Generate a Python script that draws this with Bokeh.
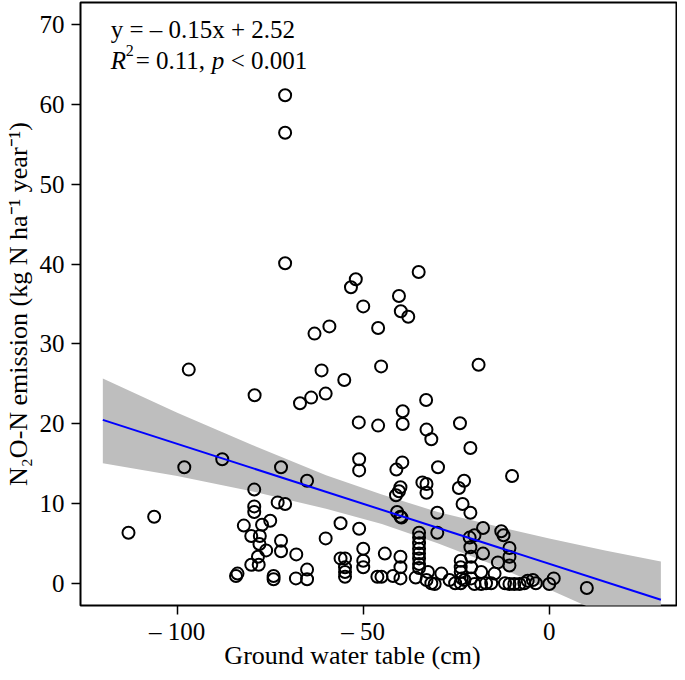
from bokeh.plotting import figure
from bokeh.models import Range1d, FixedTicker, Label
from bokeh.embed import file_html
from bokeh.resources import INLINE

# ---- data ----
water_table = [
    -71.0, -71.0, -71.0, -52.0, -53.3, -50.0, -59.1, -63.1, -46.0, -96.9,
    -61.2, -55.1, -45.2, -79.2, -60.1, -64.0, -67.0, -51.2, -46.0,
    -35.1, -40.4, -39.9, -37.9, -19.0, -33.1, -39.4, -39.4, -33.0, -31.7, -24.0,
    -21.2,
    -87.9, -98.1, -72.1, -65.1, -51.1, -51.1, -79.3, -73.0, -71.0, -79.3, -79.3,
    -106.2, -113.1,
    -75.0, -77.2, -82.1, -80.1, -77.8, -77.9, -76.1, -72.1, -72.1, -78.3, -80.1,
    -78.1, -68.0, -56.1, -60.1, -51.1, -50.0, -50.0, -50.0,
    -84.2, -83.8, -74.1, -74.1, -68.1, -65.1, -65.1, -56.1, -54.9, -54.9, -54.9,
    -54.9, -46.2, -45.1, -44.2,
    -39.5, -41.1, -29.9, -40.0, -40.4, -41.2, -34.1, -33.0, -33.0, -22.9, -24.3,
    -10.0, -23.3, -21.2, -30.1, -40.9, -40.0, -39.7, -30.1,
    -35.0, -35.0, -35.0, -35.0, -35.0, -35.0, -35.0, -35.0,
    -17.8, -20.1, -21.4, -12.9, -12.3, -21.2, -17.8, -10.7, -10.7, -10.7, -13.8,
    -21.0, -21.0, -23.8, -23.8, -23.8,
    -40.0, -40.0, -40.0, -42.0, -35.9, -32.6, -33.0, -31.7, -30.8, -29.0, -26.8,
    -25.3, -23.8, -22.8, -21.0, -20.1, -18.3, -17.0, -15.6, -14.7, -18.3, -11.9,
    -10.7, -9.4, -8.0, -6.7, -4.4, -3.6, 0.0, 1.2, 10.1, -5.8, -23.5,
]
emission = [
    61.1, 56.4, 40.1, 38.1, 37.1, 34.7, 32.2, 31.3, 32.0, 26.8,
    26.7, 25.5, 27.2, 23.6, 23.8, 23.3, 22.6, 20.2, 19.8,
    39.0, 36.0, 34.1, 33.4, 27.4, 23.0, 21.6, 20.0, 19.3, 18.1, 20.1,
    17.0,
    15.6, 14.6, 14.6, 12.9, 15.6, 14.2, 11.8, 10.2, 10.0, 9.7, 9.0,
    8.4, 6.4,
    7.9, 7.4, 7.3, 6.0, 6.0, 5.0, 4.2, 5.4, 4.1, 3.4, 2.4,
    2.4, 3.7, 7.6, 5.7, 6.9, 4.4, 2.9, 2.1,
    1.0, 1.3, 1.0, 0.6, 0.7, 1.8, 0.6, 3.2, 3.2, 2.1, 1.5,
    0.9, 0.9, 0.9, 3.8,
    15.2, 14.3, 14.6, 12.1, 11.6, 11.1, 12.7, 12.5, 11.4, 12.9, 12.0,
    13.5, 10.0, 8.9, 8.9, 9.0, 8.4, 8.3, 6.4,
    6.4, 5.8, 5.1, 4.4, 3.8, 3.2, 2.5, 2.0,
    7.0, 6.1, 5.8, 6.6, 6.1, 4.6, 3.8, 4.5, 3.4, 2.3, 2.7,
    3.4, 2.1, 2.9, 2.1, 1.5,
    3.4, 2.1, 0.7, 1.0, 0.8, 1.5, 0.5, 0.1, 0.0, 1.3, 0.5,
    0.1, 0.1, 0.5, 0.7, 0.0, 0.0, 0.1, 0.1, 1.3, 1.5, 0.1,
    0.0, 0.0, 0.0, 0.1, 0.5, 0.1, 0.0, 0.7, -0.5, 0.4, 0.7,
]

# regression (from the printed equation) and its confidence band
slope = -0.15
intercept = 2.52
fit_x = [-120.0, 30.0]
band_x = [-120, -100, -80, -60, -45, -30, -15, 0, 15, 30]
band_hi = [25.7, 21.4, 17.4, 13.6, 11.2, 9.0, 7.3, 5.7, 4.2, 2.8]
band_lo = [15.1, 13.5, 11.6, 9.4, 7.5, 5.1, 2.4, -0.7, -3.8, -6.9]

x_ticks = [-100, -50, 0]
x_tick_labels = ["\u2013 100", "\u2013 50", "0"]
y_ticks = [0, 10, 20, 30, 40, 50, 60, 70]

eq_text = "y = \u2013 0.15x + 2.52"
x_title = "Ground water table (cm)"
y_title = "N\u2082O-N emission (kg N ha\u207b\u00b9 year\u207b\u00b9)"

FONT = "Liberation Serif"

fit_y = [slope * v + intercept for v in fit_x]

p = figure(width=677, height=672,
           x_range=Range1d(-126.0, 34.2), y_range=Range1d(-2.69, 72.69),
           output_backend="svg", toolbar_location=None,
           min_border_left=78, min_border_right=1,
           min_border_top=2, min_border_bottom=67)

p.background_fill_color = "white"
p.border_fill_color = "white"
p.outline_line_color = "black"
p.outline_line_width = 2
p.xgrid.grid_line_color = None
p.ygrid.grid_line_color = None

p.varea(x=band_x, y1=band_lo, y2=band_hi, fill_color="#BEBEBE", fill_alpha=1.0)
p.scatter(water_table, emission, marker="circle", size=12,
          fill_color=None, line_color="black", line_width=2)
p.line(fit_x, fit_y, line_color="#0000FF", line_width=2)

for ax in (p.xaxis, p.yaxis):
    ax.axis_line_color = None
    ax.major_tick_out = 9
    ax.major_tick_in = 0
    ax.major_tick_line_color = "black"
    ax.major_tick_line_width = 1.5
    ax.minor_tick_line_color = None
    ax.major_label_text_font = FONT
    ax.major_label_text_font_size = "25px"
    ax.major_label_text_color = "black"
    ax.axis_label_text_font = FONT
    ax.axis_label_text_font_size = "26px"
    ax.axis_label_text_font_style = "normal"
    ax.axis_label_text_color = "black"

p.xaxis.ticker = FixedTicker(ticks=x_ticks)
p.xaxis.major_label_overrides = {t: s for t, s in zip(x_ticks, x_tick_labels)}
p.yaxis.ticker = FixedTicker(ticks=y_ticks)
# trailing en-spaces shift the centred title a little to the left, as in the original
p.xaxis.axis_label = x_title + "\u2002" * 4
p.yaxis.axis_label = y_title
p.xaxis.major_label_standoff = 3
p.xaxis.axis_label_standoff = -7
p.yaxis.major_label_standoff = 7
p.yaxis.axis_label_standoff = 4

# annotation text (upper left)
ax0, ay1, ay2 = -117.9, 69.28, 65.5
p.add_layout(Label(x=ax0, y=ay1, text=eq_text, text_font=FONT,
                   text_color="black",
                   text_font_size="25px", text_baseline="alphabetic"))
pieces = [
    ("R", "italic", "25px", 0, 0),
    ("2", "normal", "16px", 15, 10),
    ("= 0.11,", "normal", "25px", 25, 0),
    ("p", "italic", "25px", 101, 0),
    ("< 0.001", "normal", "25px", 120, 0),
]
for txt, style, size, dx, dy in pieces:
    p.add_layout(Label(x=ax0, y=ay2, x_offset=dx, y_offset=dy, text=txt,
                       text_font=FONT, text_font_style=style, text_color="black",
                       text_font_size=size, text_baseline="alphabetic"))

open("out.html", "w").write(file_html(p, INLINE))
